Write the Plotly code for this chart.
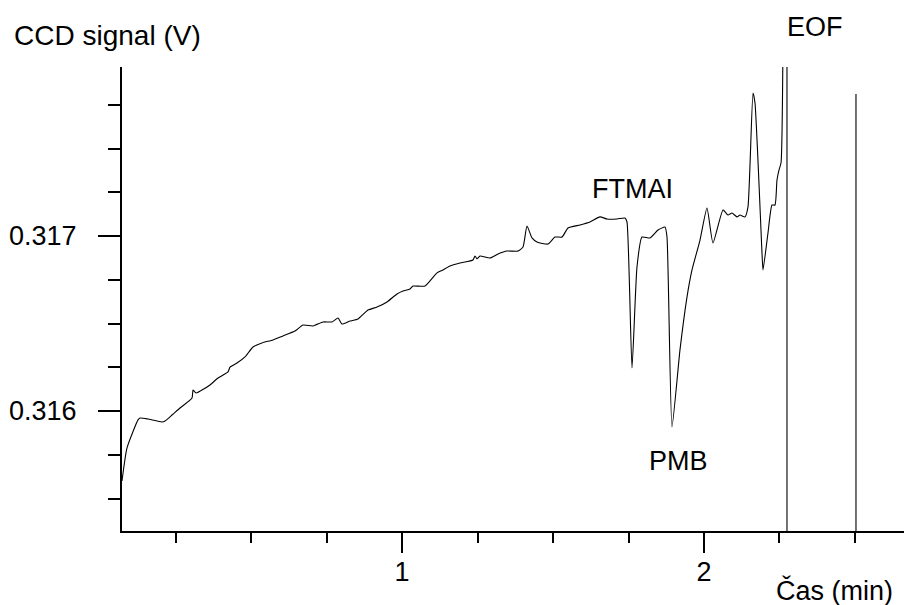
import plotly.graph_objects as go

# Migration time (min)
time_min = [0.0728, 0.0894, 0.1258, 0.1325, 0.1589, 0.2053, 0.2152, 0.2384, 0.2649, 0.3046,
             0.3079, 0.3179, 0.3642, 0.3907, 0.4238, 0.4305, 0.4536, 0.4801, 0.5066, 0.5364,
             0.5728, 0.6060, 0.6457, 0.6722, 0.7053, 0.7384, 0.7682, 0.7881, 0.8013, 0.8278,
             0.8543, 0.8874, 0.9172, 0.9503, 0.9834, 1.0033, 1.0265, 1.0364, 1.0762, 1.1159,
             1.1358, 1.1589, 1.1921, 1.2351, 1.2417, 1.2483, 1.2583, 1.2914, 1.3179, 1.3477,
             1.3841, 1.4007, 1.4139, 1.4305, 1.4470, 1.4834, 1.5066, 1.5298, 1.5497, 1.5894,
             1.6225, 1.6556, 1.6788, 1.7119, 1.7384, 1.7450, 1.7616, 1.7781, 1.7947, 1.8212,
             1.8477, 1.8709, 1.8775, 1.8940, 1.9205, 1.9437, 1.9603, 1.9868, 2.0099, 2.0298,
             2.0629, 2.0795, 2.0927, 2.1093, 2.1192, 2.1358, 2.1457, 2.1623, 2.1689, 2.1921,
             2.1954, 2.2119, 2.2252, 2.2351, 2.2417, 2.2483, 2.2550, 2.2616]

# CCD signal (V)
signal_v = [0.315600, 0.315789, 0.315949, 0.315960, 0.315954, 0.315937, 0.315943, 0.315977, 0.316017, 0.316074,
            0.316120, 0.316103, 0.316149, 0.316189, 0.316223, 0.316251, 0.316274, 0.316309, 0.316366, 0.316389,
            0.316406, 0.316429, 0.316457, 0.316491, 0.316486, 0.316509, 0.316509, 0.316531, 0.316497, 0.316514,
            0.316526, 0.316577, 0.316594, 0.316623, 0.316669, 0.316686, 0.316697, 0.316714, 0.316714, 0.316789,
            0.316806, 0.316829, 0.316846, 0.316863, 0.316886, 0.316869, 0.316886, 0.316874, 0.316897, 0.316914,
            0.316914, 0.316937, 0.317057, 0.316989, 0.316966, 0.316954, 0.316994, 0.316994, 0.317046, 0.317063,
            0.317080, 0.317109, 0.317097, 0.317097, 0.317103, 0.317080, 0.316246, 0.316823, 0.316994, 0.316989,
            0.317034, 0.317051, 0.316994, 0.315909, 0.316349, 0.316651, 0.316806, 0.316977, 0.317160, 0.316960,
            0.317149, 0.317120, 0.317131, 0.317109, 0.317120, 0.317109, 0.317166, 0.317817, 0.317760, 0.316903,
            0.316806, 0.317017, 0.317177, 0.317177, 0.317320, 0.317377, 0.317417, 0.318120]

# Off-scale EOF part of the record (straight segments)
eof_time = [2.2616, 2.2748, 2.2748, 2.5033, 2.5033]
eof_signal = [0.318120, 0.318120, 0.315150, 0.315150, 0.317811]

x_tickvals = [1, 2]
x_ticktext = ["1", "2"]
y_tickvals = [0.316, 0.317]
y_ticktext = ["0.316", "0.317"]

FONT = "Liberation Sans, Arial, sans-serif"
FS = 27

fig = go.Figure()
fig.add_trace(go.Scatter(x=time_min, y=signal_v, mode="lines",
                         line=dict(color="#000000", width=1.1, shape="spline", smoothing=0.5),
                         showlegend=False, hoverinfo="skip"))
fig.add_trace(go.Scatter(x=eof_time, y=eof_signal, mode="lines",
                         line=dict(color="#000000", width=1.1),
                         showlegend=False, hoverinfo="skip"))

fig.update_layout(
    width=904, height=605, autosize=False,
    margin=dict(l=122, r=0, t=67, b=74, pad=0, autoexpand=False),
    paper_bgcolor="white", plot_bgcolor="white",
    font=dict(family=FONT, size=FS, color="black"),
    showlegend=False,
)

fig.update_xaxes(
    range=[0.0728, 2.6623], showgrid=False, zeroline=False, automargin=False,
    showline=True, linecolor="black", linewidth=2,
    tickmode="array", tickvals=x_tickvals, ticktext=x_ticktext,
    ticks="outside", ticklen=20, tickwidth=2, tickcolor="black",
    ticklabelstandoff=-4,
    minor=dict(dtick=0.25, tick0=0, ticks="outside", ticklen=10, tickwidth=1.5,
               tickcolor="black", showgrid=False),
)
fig.update_yaxes(
    range=[0.3153143, 0.3179657], showgrid=False, zeroline=False, automargin=False,
    showline=True, linecolor="black", linewidth=2,
    tickmode="array", tickvals=y_tickvals, ticktext=y_ticktext,
    ticks="outside", ticklen=22, tickwidth=2, tickcolor="black",
    ticklabelstandoff=16,
    minor=dict(dtick=0.00025, tick0=0.316, ticks="outside", ticklen=12, tickwidth=1.5,
               tickcolor="black", showgrid=False),
)

ann = dict(showarrow=False, font=dict(family=FONT, size=FS, color="black"))
fig.add_annotation(text="CCD signal (V)", xref="paper", yref="paper",
                   x=-(122 - 12) / 782, y=1 + (67 - 35) / 464, xanchor="left", yanchor="middle",
                   font=dict(family=FONT, size=28, color="black"), showarrow=False)
fig.add_annotation(text="Čas (min)", xref="paper", yref="paper",
                   x=(834 - 122) / 782, y=-(590 - 531) / 464, xanchor="center", yanchor="middle", **ann)
fig.add_annotation(text="FTMAI", xref="x", yref="y", x=1.7616, y=0.317269,
                   xanchor="center", yanchor="middle", **ann)
fig.add_annotation(text="PMB", xref="x", yref="y", x=1.917, y=0.315714,
                   xanchor="center", yanchor="middle", **ann)
fig.add_annotation(text="EOF", xref="x", yref="paper", x=2.3675, y=1 + (67 - 27) / 464,
                   xanchor="center", yanchor="middle", **ann)

fig.write_html("out.html", config={"displayModeBar": False},
               post_script="document.body.style.margin='0';document.body.style.overflow='hidden';")
